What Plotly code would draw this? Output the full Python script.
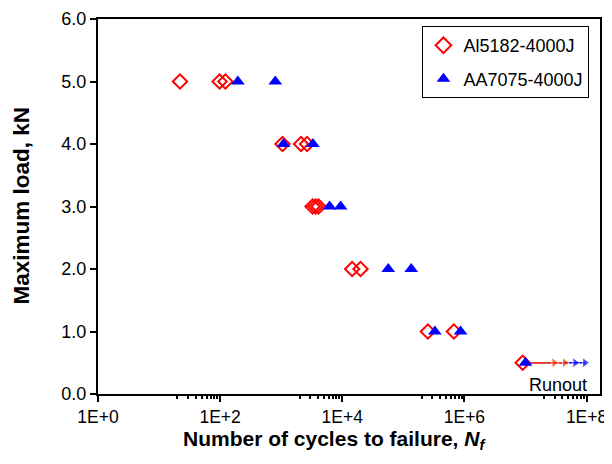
import plotly.graph_objects as go

# Data
al_cycles = [22, 98, 122, 1050, 2110, 2650, 3260, 3650, 4090, 14500, 19900, 252000, 672000]
al_load = [5.0, 5.0, 5.0, 4.0, 4.0, 4.0, 3.0, 3.0, 3.0, 2.0, 2.0, 1.0, 1.0]
aa_cycles = [195, 800, 1090, 3300, 6200, 9400, 56600, 134600, 328000, 865000]
aa_load = [5.0, 5.0, 4.0, 4.0, 3.0, 3.0, 2.0, 2.0, 1.0, 1.0]

# runout points (arrow start) and arrowhead positions
al_runout_cycles = [9.0e6, 2.95e7, 4.4e7]
al_runout_load = [0.5, 0.5, 0.5]
aa_runout_cycles = [1.0e7, 6.5e7, 9.4e7]
aa_runout_load = [0.5, 0.5, 0.5]

x_tickvals = [1e0, 1e2, 1e4, 1e6, 1e8]
x_ticktext = ["1E+0", "1E+2", "1E+4", "1E+6", "1E+8"]
x_odd_decades = [1e1, 1e3, 1e5, 1e7]
x_minor = [m * 10 * 100 ** k for k in range(4) for m in range(2, 10)]
y_tickvals = [0, 1, 2, 3, 4, 5, 6]
y_ticktext = ["0.0", "1.0", "2.0", "3.0", "4.0", "5.0", "6.0"]

FONT = "Arial, Liberation Sans, sans-serif"
RED = "#FF0000"
ORANGE = "#FF3300"
BLUE = "#0000FF"
XRANGE = [0, 8.22]

fig = go.Figure()

# runout arrows (blue under red)
fig.add_trace(go.Scatter(
    x=aa_runout_cycles, y=aa_runout_load, mode="lines+markers",
    line=dict(color=BLUE, width=1.5),
    marker=dict(symbol=["circle", "triangle-right", "triangle-right"], size=[0, 9, 9], color=BLUE),
    showlegend=False, hoverinfo="skip"))
fig.add_trace(go.Scatter(
    x=al_runout_cycles, y=al_runout_load, mode="lines+markers",
    line=dict(color=ORANGE, width=1.5),
    marker=dict(symbol=["circle", "triangle-right", "triangle-right"], size=[0, 9, 9], color=ORANGE),
    showlegend=False, hoverinfo="skip"))

# runout data points
fig.add_trace(go.Scatter(
    x=al_runout_cycles[:1], y=al_runout_load[:1], mode="markers",
    marker=dict(symbol="diamond-open", size=11, color=RED, line=dict(width=2, color=RED)),
    showlegend=False))
fig.add_trace(go.Scatter(
    x=aa_runout_cycles[:1], y=aa_runout_load[:1], mode="markers",
    marker=dict(symbol="triangle-up", size=12, color=BLUE),
    showlegend=False))

fig.add_trace(go.Scatter(
    x=al_cycles, y=al_load, mode="markers", name="Al5182-4000J",
    legendgroup="a",
    marker=dict(symbol="diamond-open", size=11, color=RED, line=dict(width=2, color=RED))))
fig.add_trace(go.Scatter(
    x=aa_cycles, y=aa_load, mode="markers", name="AA7075-4000J",
    legendgroup="b",
    marker=dict(symbol="triangle-up", size=12, color=BLUE)))

fig.add_annotation(x=7.53, y=0.15, xref="x", yref="y", text="Runout",
                   showarrow=False, font=dict(family=FONT, size=18, color="#000000"))

# axis titles as annotations
fig.add_annotation(x=0.472, y=-0.123, xref="paper", yref="paper",
                   text="<b>Number of cycles to failure, <i>N<sub>f</sub></i></b>",
                   showarrow=False, xanchor="center", yanchor="middle",
                   font=dict(family=FONT, size=21, color="#000000"))
fig.add_annotation(x=-0.153, y=0.503, xref="paper", yref="paper",
                   text="<b>Maximum load, kN</b>", textangle=-90,
                   showarrow=False, xanchor="center", yanchor="middle",
                   font=dict(family=FONT, size=22.5, color="#000000"))

# page body has an 8px default margin, so the figure is 8px smaller and offset
fig.update_layout(
    width=604, height=456,
    margin=dict(l=90, r=12, t=11, b=70, autoexpand=False),
    paper_bgcolor="white", plot_bgcolor="white",
    font=dict(family=FONT, size=18, color="#000000"),
    showlegend=True,
    legend=dict(x=0.979, y=0.981, xanchor="right", yanchor="top",
                bordercolor="#000000", borderwidth=1, bgcolor="white",
                font=dict(family=FONT, size=18), tracegroupgap=7,
                itemwidth=30, itemsizing="constant"),
    xaxis=dict(
        type="log", range=XRANGE, automargin=False,
        tickvals=x_tickvals, ticktext=x_ticktext,
        ticks="outside", ticklen=6, tickwidth=1.5, tickcolor="#000000",
        minor=dict(tickvals=x_minor, ticks="outside", ticklen=3, tickwidth=1.5, tickcolor="#000000", showgrid=False),
        showline=True, linecolor="#000000", linewidth=2, mirror=True,
        showgrid=False, zeroline=False, ticklabeloverflow="allow",
        tickfont=dict(family=FONT, size=17.5),
    ),
    xaxis2=dict(
        type="log", range=XRANGE, automargin=False, overlaying="x", anchor="y", side="bottom",
        tickvals=x_odd_decades, showticklabels=False,
        ticks="outside", ticklen=6, tickwidth=1.5, tickcolor="#000000",
        showline=False, showgrid=False, zeroline=False,
    ),
    yaxis=dict(
        range=[0, 6], automargin=False,
        tickvals=y_tickvals, ticktext=y_ticktext,
        ticks="outside", ticklen=6, tickwidth=1.5, tickcolor="#000000",
        showline=True, linecolor="#000000", linewidth=2, mirror=True,
        showgrid=False, zeroline=False,
        tickfont=dict(family=FONT, size=18),
    ),
)

fig.write_html("out.html")
